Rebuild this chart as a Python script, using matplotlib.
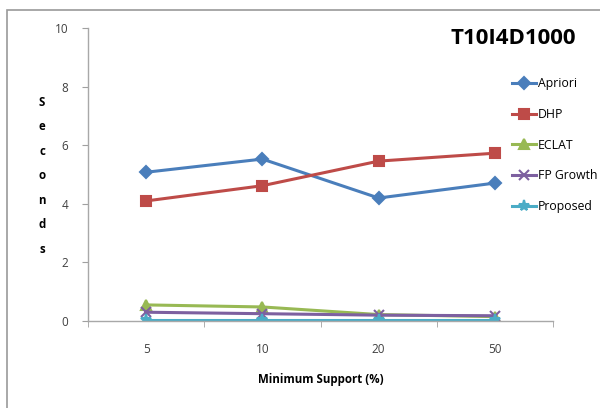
import matplotlib.pyplot as plt
from matplotlib.patches import Rectangle

plt.rcParams['font.family'] = ['Open Sans', 'DejaVu Sans']

# run times in seconds for each minimum support level
supports = ['5', '10', '20', '50']
apriori = [5.08, 5.53, 4.20, 4.71]
dhp = [4.10, 4.62, 5.46, 5.73]
eclat = [0.55, 0.48, 0.22, 0.15]
fp_growth = [0.30, 0.25, 0.20, 0.18]
proposed = [0.04, 0.04, 0.04, 0.04]

series = [
    ('Apriori', apriori, '#4A7EBB', 'D', 6),
    ('DHP', dhp, '#BE4B48', 's', 7),
    ('ECLAT', eclat, '#98B954', '^', 7),
    ('FP Growth', fp_growth, '#7D60A0', 'x', 7),
    ('Proposed', proposed, '#4BACC6', '*', 8),
]

fig = plt.figure(figsize=(6, 4.08), dpi=100)
ax = fig.add_axes([0.1467, 0.2132, 0.775, 0.7178])

x = range(len(supports))
for name, vals, col, mk, ms in series:
    ax.plot(x, vals, color=col, marker=mk, markersize=ms, linewidth=2.2,
            markeredgewidth=1.5, label=name)

ax.set_xlim(-0.5, len(supports) - 0.5)
ax.set_ylim(0, 10)
ax.set_yticks([0, 2, 4, 6, 8, 10])
ax.set_xticks(list(x))
ax.set_xticklabels(supports)
ax.set_xticks([i + 0.5 for i in range(-1, len(supports))], minor=True)
ax.tick_params(axis='x', which='major', length=0, pad=16, labelsize=8.5, colors='#404040')
ax.tick_params(axis='x', which='minor', length=4, color='#A0A0A0', direction='out')
ax.tick_params(axis='y', length=4, color='#A0A0A0', labelsize=8.5, labelcolor='#404040', pad=10)
for s in ['top', 'right']:
    ax.spines[s].set_visible(False)
for s in ['left', 'bottom']:
    ax.spines[s].set_color('#A8A8A8')
    ax.spines[s].set_linewidth(1.0)

ax.set_xlabel('Minimum Support (%)', fontsize=8.3, fontweight='bold', labelpad=12)

# stacked vertical axis label
fig.text(0.07, 0.765, 'S\ne\nc\no\nn\nd\ns', fontsize=8.3, fontweight='bold',
         ha='center', va='top', linespacing=2.15)

fig.text(0.96, 0.905, 'T10I4D1000', fontsize=16, fontweight='bold',
         ha='right', va='center')

ax.legend(loc='upper left', bbox_to_anchor=(0.845, 0.823), bbox_transform=fig.transFigure,
          frameon=False, fontsize=8.8, labelspacing=1.45, handlelength=2.0,
          handletextpad=0.1, borderaxespad=0)

fig.add_artist(Rectangle((0.012, -0.02), 1.0, 0.995, transform=fig.transFigure,
                         fill=False, edgecolor='#9A9A9A', linewidth=1.2))

fig.savefig('out.png', dpi=100)
